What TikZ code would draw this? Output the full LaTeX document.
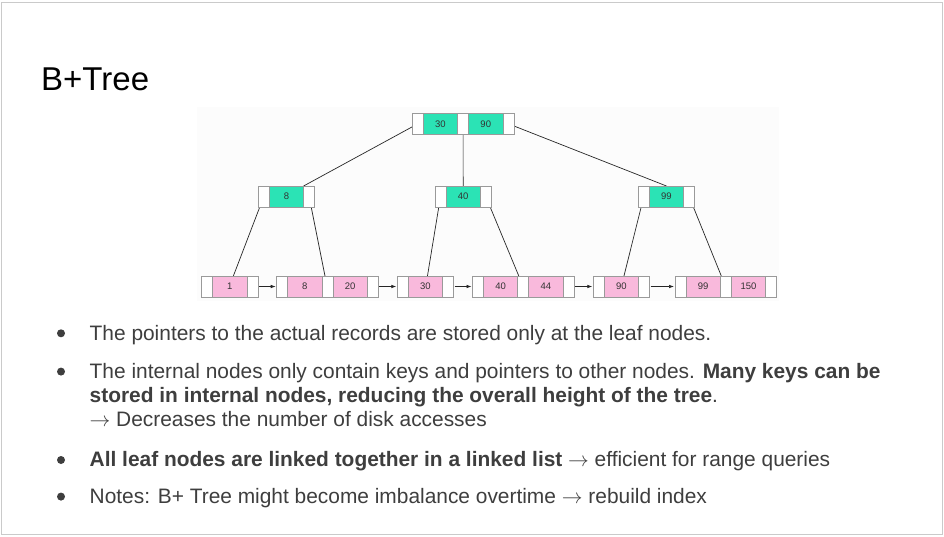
\documentclass[tikz,border=0pt]{standalone}
\usepackage{fontspec}
\setmainfont{Liberation Sans}
\usetikzlibrary{arrows.meta,calc}
\pgfdeclarelayer{background}
\pgfsetlayers{background,main}
\definecolor{keygreen}{HTML}{2BE3B5}
\definecolor{leafpink}{HTML}{F9B9DC}
\definecolor{cellline}{HTML}{9A9A9A}
\definecolor{bodytext}{HTML}{3E3E3E}
\definecolor{framegray}{HTML}{CACACA}
\definecolor{imgbg}{HTML}{FCFCFC}
\newcommand{\treenode}[5]{%
  \node[ptrcell] (#1-p0) at (#2,#3) {};
  \foreach \k [count=\i] in {#4} {%
    \pgfmathtruncatemacro\j{\i-1}%
    \node[keycell,#5] (#1-k\i) at (#1-p\j.north east) {\k};
    \node[ptrcell] (#1-p\i) at (#1-k\i.north east) {};
  }%
}
\newcommand{\rarr}{\ensuremath{\rightarrow}}
\begin{document}
\begin{tikzpicture}[x=1pt,y=-1pt,
  cell/.style={draw=cellline, line width=0.7pt, minimum height=21pt, inner sep=0pt, outer sep=0pt, anchor=north west, font=\fontsize{9.5}{11}\selectfont, text=black!80},
  ptrcell/.style={cell, fill=white, minimum width=11pt},
  keycell/.style={cell, minimum width=34.3pt},
  greenkey/.style={fill=keygreen},
  pinkkey/.style={fill=leafpink},
  treeline/.style={draw=black!85, line width=0.7pt},
  leaflink/.style={draw=black!85, line width=0.7pt, shorten <=1pt, shorten >=1pt, -{Latex[length=5pt,width=3.6pt]}},
  bodyline/.style={anchor=base west, inner sep=0pt, text=bodytext, font=\fontsize{20.9}{24.2}\selectfont},
  bulletdot/.style={circle, fill=bodytext, inner sep=0pt, minimum size=8pt},
]
\useasboundingbox (0,0) rectangle (944,537);

% tree nodes
\treenode{root}{412.3}{113.3}{30,90}{greenkey}
\treenode{na}{258.3}{186}{8}{greenkey}
\treenode{nb}{435}{186}{40}{greenkey}
\treenode{nc}{638.3}{186}{99}{greenkey}
\treenode{la}{201.7}{276}{1}{pinkkey}
\treenode{lb}{276.7}{276}{8,20}{pinkkey}
\treenode{lc}{397.3}{276}{30}{pinkkey}
\treenode{ld}{472.5}{276}{40,44}{pinkkey}
\treenode{le}{593.3}{276}{90}{pinkkey}
\treenode{lf}{675}{276}{99,150}{pinkkey}

\begin{pgfonlayer}{background}
\fill[white] (0,0) rectangle (944,537);
\draw[framegray, line width=1pt] (1,3) rectangle (942.5,534);
\fill[imgbg] (196.5,107.5) rectangle (779,301);
\draw[treeline] (root-p0.center) -- (na-k1.north east);
\draw[treeline] (root-p1.center) -- (nb-k1.north);
\draw[treeline] (root-p2.center) -- (nc-k1.north);
\draw[treeline] (na-p0.center) -- ($(la-k1.north)+(3.5,0)$);
\draw[treeline] (na-p1.center) -- ($(lb-k1.north east)+(3,0)$);
\draw[treeline] (nb-p0.center) -- ($(lc-k1.north)+(2,0)$);
\draw[treeline] (nb-p1.center) -- ($(ld-k1.north east)+(1,0)$);
\draw[treeline] (nc-p0.center) -- ($(le-k1.north)+(2.5,0)$);
\draw[treeline] (nc-p1.center) -- ($(lf-k1.north east)+(1,0)$);
\end{pgfonlayer}

% leaf links
\draw[leaflink] (la-p1.east) -- (lb-p0.west);
\draw[leaflink] (lb-p2.east) -- (lc-p0.west);
\draw[leaflink] (lc-p1.east) -- (ld-p0.west);
\draw[leaflink] (ld-p2.east) -- (le-p0.west);
\draw[leaflink] (le-p1.east) -- (lf-p0.west);

% text
\node[anchor=base west, inner sep=0pt, font=\fontsize{33}{36}\selectfont] (title) at (41,90.7) {B+Tree};
\node[bulletdot] (d1) at (61,333.3) {};
\node[bodyline] (t1) at (89.5,340) {The pointers to the actual records are stored only at the leaf nodes.};
\node[bulletdot] (d2) at (61,371.6) {};
\node[bodyline] (t2a) at (89.5,378.3) {The internal nodes only contain keys and pointers to other nodes. \textbf{Many keys can be}};
\node[bodyline] (t2b) at (89.5,402.3) {\textbf{stored in internal nodes, reducing the overall height of the tree}.};
\node[bodyline] (t2c) at (89.5,426.7) {\rarr{} Decreases the number of disk accesses};
\node[bulletdot] (d3) at (61,460) {};
\node[bodyline] (t3) at (89.5,466.7) {\textbf{All leaf nodes are linked together in a linked list} \rarr{} efficient for range queries};
\node[bulletdot] (d4) at (61,496.6) {};
\node[bodyline] (t4) at (89.5,503.3) {Notes: B+ Tree might become imbalance overtime \rarr{} rebuild index};
\end{tikzpicture}
\end{document}
